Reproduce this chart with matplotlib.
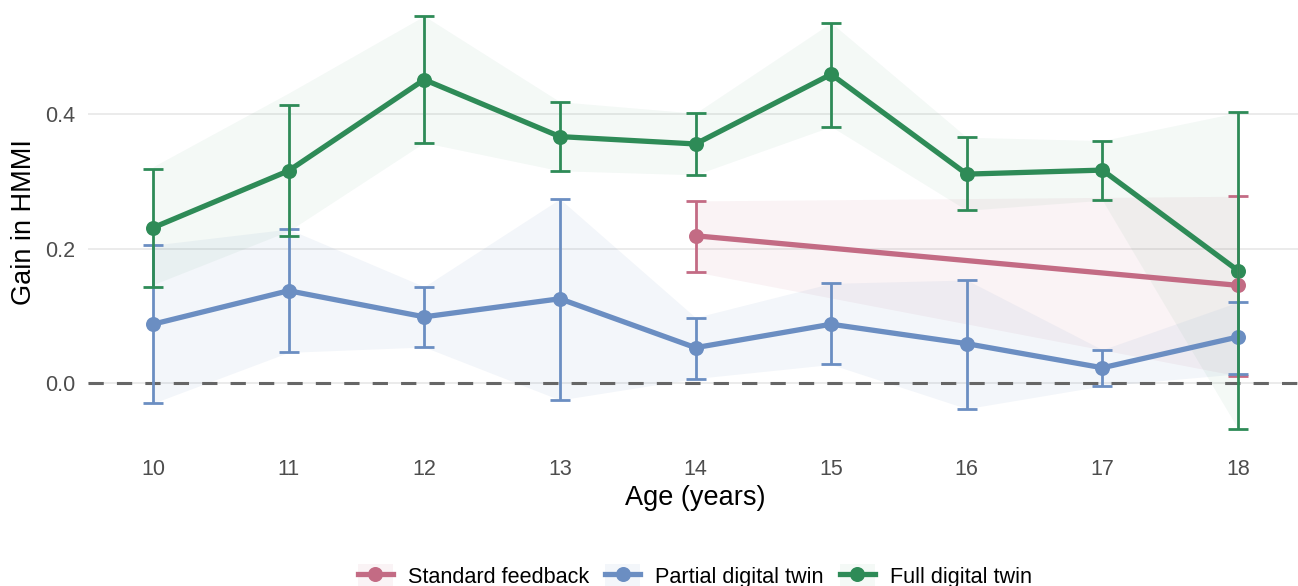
import matplotlib.pyplot as plt
from matplotlib.patches import Patch
from matplotlib.lines import Line2D

plt.rcParams['font.family'] = ['Liberation Sans', 'DejaVu Sans']

# gain in HMMI by age, mean with lower / upper interval
ages = [10, 11, 12, 13, 14, 15, 16, 17, 18]

full_mean = [0.231, 0.316, 0.452, 0.367, 0.356, 0.460, 0.311, 0.317, 0.167]
full_lo = [0.143, 0.219, 0.358, 0.316, 0.310, 0.382, 0.257, 0.272, -0.069]
full_hi = [0.319, 0.414, 0.547, 0.419, 0.402, 0.537, 0.366, 0.361, 0.403]
full_band_lo = [0.146, 0.226, 0.358, 0.316, 0.310, 0.382, 0.257, 0.272, -0.069]
full_band_hi = [0.322, 0.432, 0.547, 0.419, 0.402, 0.537, 0.366, 0.361, 0.403]

partial_mean = [0.087, 0.137, 0.098, 0.125, 0.052, 0.087, 0.058, 0.022, 0.068]
partial_lo = [-0.031, 0.045, 0.053, -0.026, 0.006, 0.027, -0.039, -0.005, 0.013]
partial_hi = [0.205, 0.229, 0.143, 0.274, 0.097, 0.148, 0.153, 0.049, 0.120]

std_ages = [14, 18]
std_mean = [0.219, 0.145]
std_lo = [0.165, 0.010]
std_hi = [0.271, 0.278]

labels = ['Standard feedback', 'Partial digital twin', 'Full digital twin']
colors = ['#C36B84', '#6B8EC2', '#2E8B57']

fig = plt.figure(figsize=(12.98, 5.86), dpi=100)
ax = fig.add_axes([88 / 1298, 1 - 449.4 / 586, 1215 / 1298, 454.2 / 586])

series = [
    (std_ages, std_mean, std_lo, std_hi, std_lo, std_hi),
    (ages, partial_mean, partial_lo, partial_hi, partial_lo, partial_hi),
    (ages, full_mean, full_lo, full_hi, full_band_lo, full_band_hi),
]
band_alpha = [0.08, 0.08, 0.05]
line_w = 3.8

ax.axhline(0, color='#666666', lw=2.2, ls=(0, (5, 4.3)), zorder=1.5)

for (x, m, lo, hi, blo, bhi), c, a in zip(series, colors, band_alpha):
    ax.fill_between(x, blo, bhi, color=c, alpha=a, lw=0, zorder=1)
for (x, m, lo, hi, blo, bhi), c in zip(series, colors):
    ax.plot(x, m, color=c, lw=line_w, zorder=2, solid_capstyle='butt')
for (x, m, lo, hi, blo, bhi), c in reversed(list(zip(series, colors))):
    ax.plot(x, m, 'o', color=c, ms=10.8, mew=0, zorder=3)
for (x, m, lo, hi, blo, bhi), c in zip(series, colors):
    err = [[mi - l for mi, l in zip(m, lo)], [h - mi for mi, h in zip(m, hi)]]
    ax.errorbar(x, m, yerr=err, fmt='none', ecolor=c, elinewidth=2.0,
                capsize=7.2, capthick=2.0, zorder=4)

ax.set_xlim(9.521, 18.479)
ax.set_ylim(-0.0998, 0.578)
ax.set_xticks(ages)
ax.set_yticks([0.0, 0.2, 0.4])
ax.set_yticklabels(['0.0', '0.2', '0.4'])
ax.tick_params(length=0, labelsize=15.5, labelcolor='#4D4D4D')
ax.tick_params(axis='x', pad=7)
ax.tick_params(axis='y', pad=9)
for s in ax.spines.values():
    s.set_visible(False)
ax.yaxis.grid(True, color='#EBEBEB', lw=1.4)
ax.set_axisbelow(True)

ax.set_xlabel('Age (years)', fontsize=19.5, va='center')
ax.xaxis.set_label_coords(0.5, (449.4 - 498) / 454.2)
ax.set_ylabel('Gain in HMMI', fontsize=19.5, va='center')
ax.yaxis.set_label_coords((24 - 88) / 1215, 0.5)

handles = []
for c, a in zip(colors, band_alpha):
    handles.append((Patch(facecolor=c, alpha=a, lw=0),
                    Line2D([], [], color=c, lw=line_w, marker='o', ms=10.8, mew=0)))
fig.legend(handles, labels, loc='center', bbox_to_anchor=(695 / 1298, 1 - 576 / 586),
           ncol=3, frameon=False, fontsize=15.6, handlelength=1.6, handleheight=1.3,
           handletextpad=0.7, columnspacing=0.75, borderpad=0)

fig.savefig('out.png', dpi=100)
